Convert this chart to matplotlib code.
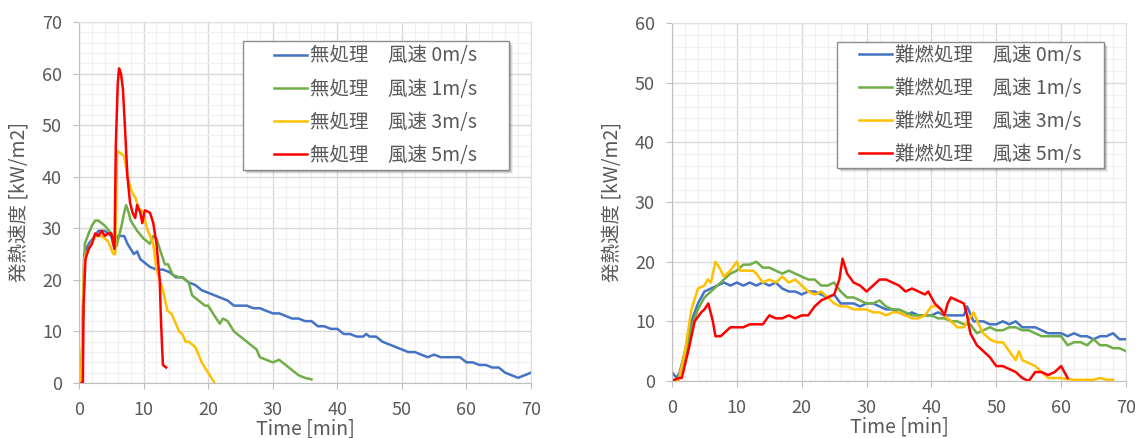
import matplotlib
matplotlib.use("Agg")
import matplotlib.pyplot as plt
from matplotlib.patches import Rectangle
from matplotlib.ticker import MultipleLocator
from matplotlib.transforms import offset_copy

plt.rcParams["font.family"] = ["Noto Sans CJK JP", "DejaVu Sans"]

BLUE = "#4472C4"; GREEN = "#70AD47"; YELLOW = "#FFC000"; RED = "#FF0000"
TXT = "#595959"

# ── 無処理 (left) ────────────────────────────────────────────────────────────
t_n0 = [0, 0.3, 0.5, 0.8, 1.5, 2.5, 3, 4, 5, 5.5, 6, 7, 7.5, 8.5, 9, 9.5, 10, 11, 12, 13, 14,
        15, 16, 17, 18, 19, 20, 21, 22, 23, 24, 25, 26, 27, 28, 29, 30, 31, 32, 33, 34, 35, 36,
        37, 38, 39, 40, 41, 42, 43, 44, 44.5, 45, 46, 47, 48, 49, 50, 51, 52, 53, 54, 55, 56,
        57, 58, 59, 60, 61, 62, 63, 64, 65, 66, 67, 68, 69, 70]
v_n0 = [0, 1, 7, 25, 27, 28.5, 29.5, 29.5, 28.5, 26, 28.5, 28.5, 27, 25, 25.5, 24, 23.5, 22.5,
        22, 22, 21.5, 20.5, 20.5, 19.5, 19, 18, 17.5, 17, 16.5, 16, 15, 15, 15, 14.5, 14.5, 14,
        13.5, 13.5, 13, 12.5, 12.5, 12, 12, 11, 11, 10.5, 10.5, 9.5, 9.5, 9, 9, 9.5, 9, 9, 8,
        7.5, 7, 6.5, 6, 6, 5.5, 5, 5.5, 5, 5, 5, 5, 4, 4, 3.5, 3.5, 3, 3, 2, 1.5, 1, 1.5, 2]

t_n1 = [0, 0.3, 0.6, 0.9, 1.5, 2, 2.5, 3, 4, 5, 5.5, 5.8, 6.5, 7, 7.3, 7.7, 8, 8.5, 9, 10, 11,
        11.5, 12, 12.5, 13.3, 13.8, 14.5, 15.5, 16, 17, 17.5, 18.5, 19.5, 20, 21, 21.8, 22.3,
        23, 24, 25, 26, 27, 27.5, 28, 29, 30, 31, 32, 33, 34, 35, 36]
v_n1 = [1.5, 0, 10, 27, 29, 30.5, 31.5, 31.5, 30.5, 29, 27, 26.5, 30, 33, 34.5, 33, 31.5,
        30.5, 29.5, 28, 27, 28.5, 28, 26, 23, 23, 21, 20.5, 20.5, 19.5, 17, 16, 15, 15, 13,
        11.5, 12.5, 12, 10, 9, 8, 7, 6.5, 5, 4.5, 4, 4.5, 3.5, 2.5, 1.5, 1, 0.7]

t_n3 = [0, 0.3, 0.8, 1.5, 2.5, 3.5, 4.5, 5.3, 5.6, 5.9, 6.5, 7, 7.5, 8.2, 8.7, 9.2, 10, 10.5,
        11.5, 12, 13, 13.7, 14.3, 15, 15.5, 16, 16.5, 17, 17.5, 18, 18.5, 19, 19.5, 20, 20.5, 21]
v_n3 = [0, 0, 24, 26, 28.5, 28.5, 27.5, 25, 25, 45, 44.5, 44, 40, 37, 36, 34, 33, 30, 27, 22,
        18, 14, 13.5, 11.5, 10, 9.5, 8, 8, 7.5, 7, 5.5, 4, 3, 2, 1, 0]

t_n5 = [0.4, 0.6, 0.7, 1, 1.5, 2, 2.5, 3, 3.5, 4, 4.5, 5, 5.5, 5.7, 6, 6.2, 6.5, 6.8, 7.1, 7.5,
        7.9, 8.3, 8.7, 9, 9.5, 9.8, 10.2, 11, 11.5, 12, 12.5, 12.7, 12.9, 13, 13.5]
v_n5 = [0, 0, 15, 24, 26, 27, 29, 28.5, 29.5, 28.5, 29, 29, 26, 46, 58, 61, 60, 57, 50, 40,
        35, 33, 32, 34.5, 33, 31, 33.5, 33, 31, 27, 20, 12, 6, 3.5, 3]

# ── 難燃処理 (right) ─────────────────────────────────────────────────────────
t_f0 = [0, 0.7, 1.2, 2, 3, 4, 5, 6, 7, 8, 9, 10, 11, 12, 13, 14, 15, 16, 17, 18, 19, 20, 21,
        22, 23, 24, 25, 26, 27, 28, 29, 30, 31, 32, 33, 34, 35, 36, 37, 38, 39, 40, 41, 42, 43,
        44, 45, 45.5, 46.5, 47, 48, 49, 50, 51, 52, 53, 54, 55, 56, 57, 58, 59, 60, 61, 62, 63,
        64, 65, 66, 67, 68, 69, 70]
v_f0 = [1.5, 0.5, 1.5, 5, 10, 13, 15, 15.5, 16, 16.5, 16, 16.5, 16, 16.5, 16, 16.5, 16, 16.5,
        15.5, 15, 15, 14.5, 15, 15, 14.5, 14, 14.5, 13, 13, 13, 12.5, 13, 13, 12.5, 12, 12,
        11.5, 11, 11.5, 11, 11, 11, 11.5, 11, 11, 11, 11, 12.5, 10, 10, 10, 9.5, 9.5, 10, 9.5,
        10, 9, 9, 9, 8.5, 8, 8, 8, 7.5, 8, 7.5, 7.5, 7, 7.5, 7.5, 8, 7, 7]

t_f1 = [0, 1, 2, 3, 4, 5, 6, 7, 8, 9, 10, 11, 12, 13, 14, 15, 16, 17, 18, 19, 20, 21, 22, 23,
        24, 25, 26, 27, 28, 29, 30, 31, 32, 33, 34, 35, 36, 37, 38, 39, 40, 41, 42, 43, 44, 45,
        46, 47, 48, 49, 50, 51, 52, 53, 54, 55, 56, 57, 58, 59, 60, 61, 62, 63, 64, 65, 66,
        67, 68, 69, 70]
v_f1 = [0, 0.5, 4, 9, 12, 14, 15, 16, 17, 18, 18.5, 19.5, 19.5, 20, 19, 19, 18.5, 18, 18.5,
        18, 17.5, 17, 17, 16, 16, 16.5, 15, 14, 14, 13.5, 13, 13, 13.5, 12.5, 12, 12, 11.5, 11,
        11, 11, 11, 10.5, 10.5, 10, 10, 9.5, 9.5, 8, 8.5, 9, 8.5, 8.5, 9, 9, 8.5, 8.5, 8, 7.5,
        7.5, 7.5, 7.5, 6, 6.5, 6.5, 6, 7, 6, 6, 5.5, 5.5, 5]

t_f3 = [0, 1, 2, 3, 4, 5, 5.5, 6, 6.7, 7.3, 8, 9, 10, 10.5, 11.5, 12.5, 13, 14, 15, 16, 17,
        18, 19, 20, 21, 22, 23, 24, 25, 26, 27, 28, 29, 30, 31, 32, 33, 34, 35, 36, 37, 38, 39,
        40, 41, 42, 43, 44, 45, 46.5, 47.5, 48, 49, 50, 51, 52, 53, 53.5, 54, 55, 56, 57, 58,
        59, 60, 61, 62, 63, 64, 65, 66, 67, 68]
v_f3 = [0, 0, 5, 12, 15.5, 16, 17, 16.5, 20, 19, 17.5, 18.5, 20, 18.5, 18.5, 18.5, 18, 16.5,
        17, 16.5, 17.5, 16.5, 17, 16, 15, 14.5, 15, 14, 13, 12.5, 12.5, 12, 12, 12, 11.5, 11.5,
        11, 11.5, 11.5, 11, 10.5, 10.5, 11, 12.5, 12.5, 11, 10, 9, 9, 11.5, 9, 8, 7, 6.5, 6.5,
        5, 3.5, 5, 3.5, 3, 2.5, 1.5, 0.5, 0.5, 0.5, 0.3, 0.2, 0.2, 0.2, 0.2, 0.5, 0.2, 0.2]

t_f5 = [0, 1, 1.5, 2.5, 3.5, 4.5, 5, 5.6, 6.3, 6.7, 7.5, 8, 9, 10, 11, 12, 13, 14, 15, 16, 17,
        18, 19, 20, 21, 22, 23, 24, 25, 25.8, 26.3, 27, 28, 29, 30, 31, 32, 33, 34, 35, 36, 37,
        38, 39, 39.5, 40.5, 41.5, 42, 42.5, 43, 44, 45, 45.5, 46, 47, 48, 49, 50, 51, 52, 53,
        54, 55, 56, 57, 58, 59, 60, 61]
v_f5 = [0, 0.5, 0.5, 5, 10, 11.5, 12, 13, 10, 7.5, 7.5, 8, 9, 9, 9, 9.5, 9.5, 9.5, 11, 10.5,
        10.5, 11, 10.5, 11, 11, 12.5, 13.5, 14, 14.5, 17, 20.5, 18, 16.5, 16, 15, 16, 17, 17,
        16.5, 16, 15, 15.5, 15, 14.5, 15, 13, 12, 11, 13, 14, 13.5, 13, 11, 8, 6, 5, 4, 2.5,
        2.5, 2, 1.5, 0.5, 0, 1.5, 1.5, 1, 1.5, 2.5, 0.5]

labels_n = ["無処理　風速 0m/s", "無処理　風速 1m/s", "無処理　風速 3m/s", "無処理　風速 5m/s"]
labels_f = ["難燃処理　風速 0m/s", "難燃処理　風速 1m/s", "難燃処理　風速 3m/s", "難燃処理　風速 5m/s"]
colors = [BLUE, GREEN, YELLOW, RED]

fig = plt.figure(figsize=(11.35, 4.38), dpi=100)
ax1 = fig.add_axes([79 / 1135, 1 - 383 / 438, 452 / 1135, 361 / 438])
ax2 = fig.add_axes([672 / 1135, 1 - 381 / 438, 454 / 1135, 358 / 438])


def style(ax, ymax):
    ax.set_xlim(0, 70)
    ax.set_ylim(0, ymax)
    ax.xaxis.set_major_locator(MultipleLocator(10))
    ax.yaxis.set_major_locator(MultipleLocator(10))
    ax.xaxis.set_minor_locator(MultipleLocator(2))
    ax.yaxis.set_minor_locator(MultipleLocator(2))
    ax.grid(which="major", color="#D9D9D9", lw=1.0)
    ax.grid(which="minor", color="#F0F0F0", lw=0.8)
    ax.set_axisbelow(True)
    for s in ax.spines.values():
        s.set_color("#E0E0E0")
    ax.spines["left"].set_color("#BFBFBF")
    ax.spines["bottom"].set_color("#BFBFBF")
    ax.tick_params(which="minor", length=0)
    ax.tick_params(which="major", length=4.3, color="#BFBFBF", labelsize=13, colors=TXT)
    ax.tick_params(which="major", axis="x", pad=8.5, labelcolor=TXT)
    ax.tick_params(which="major", axis="y", pad=8, labelcolor=TXT)
    ax.set_xlabel("Time [min]", fontsize=14, color=TXT, labelpad=0)
    ax.set_ylabel("発熱速度 [kW/m2]", fontsize=14, color=TXT, labelpad=8)


series_n = [(t_n0, v_n0), (t_n1, v_n1), (t_n3, v_n3), (t_n5, v_n5)]
series_f = [(t_f0, v_f0), (t_f1, v_f1), (t_f3, v_f3), (t_f5, v_f5)]

# legend box (axes fraction): x0, y0, width, height
boxes = [(0.363, 0.590, 0.588, 0.357), (0.363, 0.595, 0.589, 0.352)]

for ax, series, labels, ymax, box in [(ax1, series_n, labels_n, 70, boxes[0]),
                                      (ax2, series_f, labels_f, 60, boxes[1])]:
    style(ax, ymax)
    for (t, v), c, lab in zip(series, colors, labels):
        ax.plot(t, v, color=c, lw=1.8, label=lab)
    x0, y0, w, h = box
    # soft shadow, then frame
    for k, a in [(4, 0.06), (3, 0.10), (2, 0.14)]:
        tr = offset_copy(ax.transAxes, fig=fig, x=k, y=-k, units="dots")
        ax.add_patch(Rectangle((x0, y0), w, h, transform=tr, facecolor="black",
                               edgecolor="none", alpha=a, zorder=5, clip_on=False))
    ax.add_patch(Rectangle((x0, y0), w, h, transform=ax.transAxes, facecolor="white",
                           edgecolor="#8C8C8C", lw=1.0, zorder=5.5, clip_on=False))
    leg = ax.legend(loc="center", bbox_to_anchor=(x0 + w / 2, y0 + h / 2), fontsize=14,
                    frameon=False, handlelength=1.7, handletextpad=0.15,
                    labelspacing=0.62, borderpad=0, borderaxespad=0)
    leg.set_zorder(6)
    for txt in leg.get_texts():
        txt.set_color(TXT)

fig.savefig("out.png", dpi=100)
